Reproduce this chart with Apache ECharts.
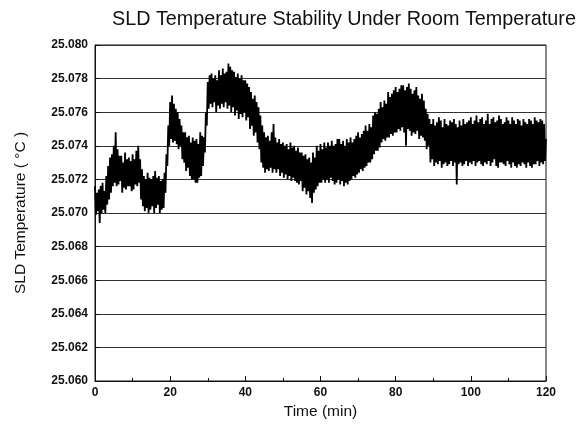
<!DOCTYPE html>
<html>
<head>
<meta charset="utf-8">
<script src="https://cdn.jsdelivr.net/npm/echarts@6/dist/echarts.min.js"></script>
<style>html,body{margin:0;padding:0;background:#fff;}#c{width:579px;height:430px;}</style>
</head>
<body>
<div id="c"></div>
<script>
// Data
const titleText = 'SLD Temperature Stability Under Room Temperature';
const xAxisName = 'Time (min)';
const yAxisName = 'SLD Temperature ( \u00B0C )';
const xTicks = [0, 20, 40, 60, 80, 100, 120];
const yTicks = [25.060, 25.062, 25.064, 25.066, 25.068, 25.070, 25.072, 25.074, 25.076, 25.078, 25.080];
const startTime = 0;      // min
const sampleStep = 0.25;  // min between samples
const temperature = [
25.0716,25.0699,25.0712,25.0701, 25.0714,25.0694,25.0716,25.0700, 25.0718,25.0702,25.0713,25.0700,
25.0722,25.0705,25.0728,25.0708, 25.0733,25.0712,25.0735,25.0716, 25.0740,25.0718,25.0748,25.0716,
25.0738,25.0717,25.0734,25.0719, 25.0734,25.0712,25.0730,25.0715, 25.0736,25.0714,25.0732,25.0716,
25.0733,25.0716,25.0731,25.0713, 25.0735,25.0714,25.0732,25.0717, 25.0737,25.0716,25.0740,25.0718,
25.0732,25.0708,25.0726,25.0704, 25.0722,25.0701,25.0720,25.0703, 25.0724,25.0700,25.0721,25.0702,
25.0720,25.0704,25.0722,25.0700, 25.0725,25.0703,25.0721,25.0705, 25.0722,25.0700,25.0719,25.0702,
25.0720,25.0703,25.0724,25.0712, 25.0735,25.0728,25.0752,25.0740, 25.0766,25.0744,25.0770,25.0742,
25.0765,25.0743,25.0762,25.0741, 25.0760,25.0738,25.0756,25.0740, 25.0752,25.0732,25.0748,25.0730,
25.0748,25.0725,25.0745,25.0727, 25.0746,25.0722,25.0742,25.0720, 25.0745,25.0720,25.0743,25.0718,
25.0744,25.0718,25.0741,25.0721, 25.0748,25.0722,25.0746,25.0728, 25.0745,25.0736,25.0760,25.0752,
25.0778,25.0762,25.0782,25.0765, 25.0783,25.0763,25.0780,25.0766, 25.0782,25.0760,25.0779,25.0764,
25.0785,25.0762,25.0782,25.0765, 25.0786,25.0763,25.0783,25.0766, 25.0784,25.0762,25.0789,25.0764,
25.0787,25.0760,25.0785,25.0763, 25.0784,25.0758,25.0781,25.0761, 25.0783,25.0756,25.0780,25.0759,
25.0782,25.0757,25.0779,25.0760, 25.0779,25.0755,25.0777,25.0757, 25.0775,25.0750,25.0772,25.0752,
25.0768,25.0746,25.0770,25.0748, 25.0766,25.0742,25.0763,25.0738, 25.0758,25.0730,25.0752,25.0727,
25.0748,25.0724,25.0745,25.0726, 25.0746,25.0725,25.0743,25.0727, 25.0748,25.0724,25.0753,25.0726,
25.0745,25.0724,25.0742,25.0726, 25.0744,25.0722,25.0741,25.0724, 25.0742,25.0721,25.0740,25.0723,
25.0741,25.0720,25.0738,25.0722, 25.0742,25.0719,25.0739,25.0721, 25.0740,25.0719,25.0737,25.0718,
25.0739,25.0717,25.0736,25.0719, 25.0736,25.0713,25.0734,25.0715, 25.0735,25.0711,25.0732,25.0713,
25.0733,25.0709,25.0730,25.0706, 25.0736,25.0712,25.0733,25.0714, 25.0740,25.0716,25.0737,25.0718,
25.0741,25.0718,25.0738,25.0720, 25.0742,25.0718,25.0739,25.0720, 25.0742,25.0718,25.0740,25.0721,
25.0743,25.0719,25.0740,25.0717, 25.0741,25.0718,25.0744,25.0720, 25.0744,25.0717,25.0741,25.0719,
25.0743,25.0716,25.0740,25.0718, 25.0744,25.0717,25.0742,25.0719, 25.0745,25.0720,25.0742,25.0722,
25.0744,25.0721,25.0746,25.0723, 25.0748,25.0724,25.0745,25.0726, 25.0747,25.0725,25.0749,25.0727,
25.0752,25.0728,25.0749,25.0730, 25.0753,25.0730,25.0751,25.0732, 25.0758,25.0735,25.0760,25.0737,
25.0759,25.0737,25.0762,25.0739, 25.0766,25.0742,25.0763,25.0744, 25.0767,25.0743,25.0765,25.0745,
25.0772,25.0745,25.0769,25.0747, 25.0771,25.0746,25.0773,25.0748, 25.0775,25.0748,25.0772,25.0750,
25.0774,25.0749,25.0776,25.0751, 25.0776,25.0748,25.0773,25.0740, 25.0775,25.0750,25.0777,25.0749,
25.0774,25.0746,25.0771,25.0748, 25.0773,25.0747,25.0775,25.0749, 25.0770,25.0744,25.0768,25.0746,
25.0771,25.0745,25.0767,25.0743, 25.0762,25.0738,25.0759,25.0740, 25.0756,25.0730,25.0753,25.0732,
25.0756,25.0728,25.0752,25.0730, 25.0754,25.0729,25.0757,25.0731, 25.0755,25.0727,25.0751,25.0729,
25.0756,25.0730,25.0753,25.0728, 25.0752,25.0729,25.0755,25.0731, 25.0754,25.0728,25.0756,25.0730,
25.0753,25.0717,25.0751,25.0729, 25.0755,25.0730,25.0752,25.0728, 25.0756,25.0729,25.0753,25.0731,
25.0754,25.0728,25.0755,25.0730, 25.0757,25.0729,25.0753,25.0731, 25.0755,25.0728,25.0758,25.0730,
25.0754,25.0731,25.0756,25.0729, 25.0757,25.0728,25.0753,25.0730, 25.0755,25.0729,25.0759,25.0731,
25.0753,25.0728,25.0756,25.0730, 25.0757,25.0732,25.0754,25.0728, 25.0755,25.0727,25.0758,25.0730,
25.0756,25.0730,25.0753,25.0729, 25.0754,25.0728,25.0757,25.0731, 25.0755,25.0729,25.0753,25.0727,
25.0757,25.0730,25.0755,25.0728, 25.0753,25.0727,25.0756,25.0729, 25.0755,25.0728,25.0752,25.0730,
25.0756,25.0729,25.0754,25.0727, 25.0753,25.0730,25.0756,25.0728, 25.0755,25.0727,25.0753,25.0729,
25.0757,25.0729,25.0755,25.0731, 25.0754,25.0728,25.0756,25.0730, 25.0755,25.0729,25.0753,25.0731,
25.0744
];

const seriesData = temperature.map((v, i) => [startTime + i * sampleStep, v]);

const chart = echarts.init(document.getElementById('c'), null, {renderer: 'canvas'});
const font = 'Liberation Sans, Arial, sans-serif';
chart.setOption({
  animation: false,
  backgroundColor: '#fff',
  title: {
    text: titleText, left: 107, top: 5,
    textStyle: {fontFamily: font, fontSize: 19.8, fontWeight: 'normal', color: '#111'}
  },
  grid: {left: 95, right: 33, top: 45, bottom: 49, show: true, borderColor: '#111', borderWidth: 1, backgroundColor: 'transparent'},
  xAxis: {
    type: 'value', min: xTicks[0], max: xTicks[xTicks.length - 1], interval: 20,
    name: xAxisName, nameLocation: 'middle', nameGap: 23,
    nameTextStyle: {fontFamily: font, fontSize: 15.5, color: '#111'},
    axisLine: {show: true, lineStyle: {color: '#111', width: 1}},
    axisTick: {show: true, inside: true, length: 5, lineStyle: {color: '#111'}},
    minorTick: {show: true, splitNumber: 2, length: 3, lineStyle: {color: '#111'}},
    axisLabel: {fontFamily: font, fontSize: 12, fontWeight: 'bold', color: '#111', margin: 6,
      formatter: v => xTicks.includes(v) ? String(v) : ''},
    splitLine: {show: false}
  },
  yAxis: {
    type: 'value', min: yTicks[0], max: yTicks[yTicks.length - 1], interval: 0.002,
    name: yAxisName, nameLocation: 'middle', nameGap: 66, nameRotate: 90,
    nameTextStyle: {fontFamily: font, fontSize: 15.5, color: '#111'},
    axisLine: {show: true, lineStyle: {color: '#111', width: 1}},
    axisTick: {show: true, inside: true, length: 5, lineStyle: {color: '#111'}},
    axisLabel: {fontFamily: font, fontSize: 12, fontWeight: 'bold', color: '#111', margin: 7,
      formatter: v => v.toFixed(3)},
    splitLine: {show: true, lineStyle: {color: '#333', width: 1}}
  },
  series: [{
    type: 'line', data: seriesData, showSymbol: false, symbol: 'none',
    sampling: 'none', lineStyle: {color: '#000', width: 1.8}, z: 3
  }]
});
</script>
</body>
</html>
